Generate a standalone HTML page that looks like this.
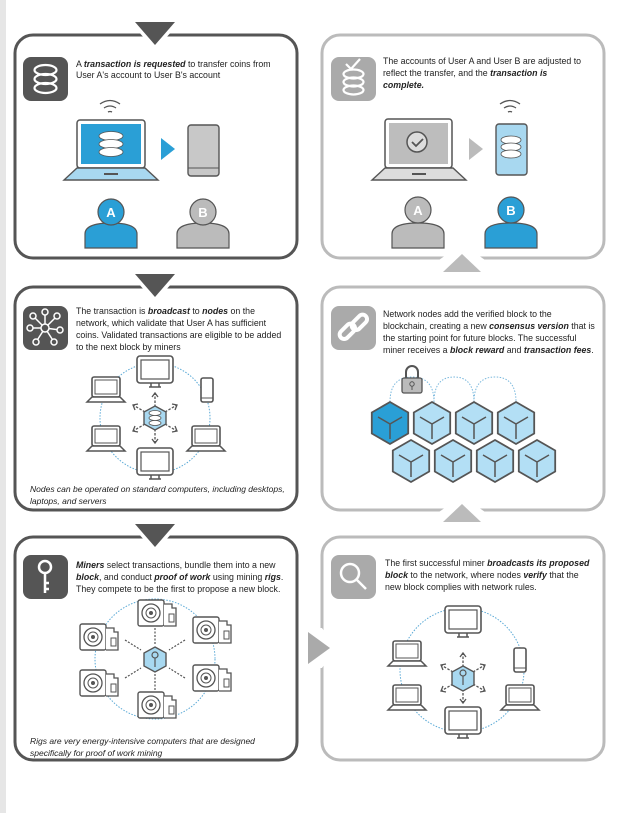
<!DOCTYPE html>
<html><head><meta charset="utf-8"><style>
html,body{margin:0;padding:0;background:#fff;width:621px;height:813px;overflow:hidden}
svg text{font-family:"Liberation Sans",sans-serif;font-size:8.8px;fill:#222}
.b{font-weight:bold;font-style:italic}
.i{font-style:italic;font-size:8.5px}
</style></head><body>
<svg width="621" height="813" viewBox="0 0 621 813" xmlns="http://www.w3.org/2000/svg">
<defs>
<g id="mon"><rect x="-18" y="-14" width="36" height="27" rx="3" fill="#fff" stroke="#555" stroke-width="1.6"/><rect x="-14" y="-10" width="28" height="19" fill="none" stroke="#555" stroke-width="1.2"/><path d="M-4 13v4h8v-4M-6 17h12" stroke="#555" stroke-width="1.5" fill="none"/></g>
<g id="lap"><rect x="-14" y="-12" width="28" height="20" rx="2" fill="#fff" stroke="#555" stroke-width="1.6"/><rect x="-11" y="-9" width="22" height="14" fill="none" stroke="#555" stroke-width="1"/><path d="M-14 8l-5 5h38l-5-5z" fill="#fff" stroke="#555" stroke-width="1.5"/></g>
<g id="ph"><rect x="-6" y="-12" width="12" height="24" rx="2" fill="#fff" stroke="#555" stroke-width="1.6"/><line x1="-6" y1="8" x2="6" y2="8" stroke="#555"/></g>
<g id="rig"><rect x="-20" y="-13" width="26" height="26" rx="2" fill="#fff" stroke="#555" stroke-width="1.4"/><circle cx="-7" cy="0" r="9" fill="none" stroke="#555" stroke-width="1.3"/><circle cx="-7" cy="0" r="5" fill="none" stroke="#555"/><circle cx="-7" cy="0" r="2" fill="#555"/><path d="M6 -9h8v4h4v18H6" fill="#fff" stroke="#555" stroke-width="1.3"/><rect x="11" y="1" width="5" height="8" fill="none" stroke="#555"/></g>
<g id="cube"><polygon points="0,-21 18.2,-10.5 18.2,10.5 0,21 -18.2,10.5 -18.2,-10.5" fill="#b3dff5" stroke="#555" stroke-width="1.8"/><path d="M0 1L-12 -6M0 1L12 -6M0 1V16" stroke="#555" stroke-width="1.5" fill="none"/></g>
<g id="arr" stroke="#555" stroke-width="1.3" fill="none"><path d="M0 -11V-25M0 11V25M10 -6L22 -13M-10 -6L-22 -13M10 6L22 13M-10 6L-22 13" stroke-dasharray="2.5 1.5"/><path d="M-3 -21L0 -25L3 -21M-3 21L0 25L3 21M17 -14L22 -13L20 -8M-17 -14L-22 -13L-20 -8M17 14L22 13L20 8M-17 14L-22 13L-20 8"/></g>
</defs>

<rect x="0" y="0" width="6" height="813" fill="#e6e6e6"/>

<!-- Panel 1 -->
<rect x="15" y="35" width="282" height="223" rx="18" fill="#fff" stroke="#555" stroke-width="3"/>
<polygon points="128,20 182,20 155,50" fill="#fff"/>
<polygon points="135,22 175,22 155,45" fill="#555"/>
<rect x="23" y="57" width="45" height="44" rx="8" fill="#555"/>
<g fill="none" stroke="#fff" stroke-width="2.2"><ellipse cx="45.5" cy="70" rx="11" ry="5"/><ellipse cx="45.5" cy="79" rx="11" ry="5"/><ellipse cx="45.5" cy="88" rx="11" ry="5"/></g>
<text x="76" y="67">A <tspan class="b">transaction is requested</tspan>  to transfer coins from</text>
<text x="76" y="78">User A's account to User B's account</text>
<g fill="none" stroke="#555" stroke-width="1.3"><path d="M100 104q10-7 20 0M104 108q6-4 12 0M108 112q2-1 4 0"/></g>
<rect x="77" y="120" width="68" height="48" rx="3" fill="#fff" stroke="#555" stroke-width="1.5"/>
<rect x="81" y="124" width="60" height="40" fill="#2a9fd6"/>
<g fill="#fff" stroke="#555" stroke-width="0.8"><ellipse cx="111" cy="136" rx="12" ry="4.5"/><ellipse cx="111" cy="144" rx="12" ry="4.5"/><ellipse cx="111" cy="152" rx="12" ry="4.5"/></g>
<path d="M77 168l-13 12h94l-13-12z" fill="#a8d8f0" stroke="#555" stroke-width="1.4"/>
<rect x="104" y="173" width="14" height="2" fill="#555"/>
<polygon points="161,138 175,149 161,160" fill="#2a9fd6"/>
<rect x="188" y="125" width="31" height="51" rx="3" fill="#c8c8c8" stroke="#555" stroke-width="1.4"/>
<line x1="188" y1="168" x2="219" y2="168" stroke="#555"/>
<path d="M85 248v-14q0-11 26-11t26 11v14z" fill="#2a9fd6" stroke="#555" stroke-width="1.2"/>
<circle cx="111" cy="212" r="13" fill="#2a9fd6" stroke="#555" stroke-width="1.2"/>
<text x="111" y="217" text-anchor="middle" style="font-size:13px;font-weight:bold;fill:#fff">A</text>
<path d="M177 248v-14q0-11 26-11t26 11v14z" fill="#bbb" stroke="#555" stroke-width="1.2"/>
<circle cx="203" cy="212" r="13" fill="#bbb" stroke="#555" stroke-width="1.2"/>
<text x="203" y="217" text-anchor="middle" style="font-size:13px;font-weight:bold;fill:#fff">B</text>

<!-- Panel 2 -->
<rect x="322" y="35" width="282" height="223" rx="18" fill="#fff" stroke="#bbb" stroke-width="3"/>
<rect x="331" y="57" width="45" height="44" rx="8" fill="#aaa"/>
<g fill="none" stroke="#fff" stroke-width="2.2"><ellipse cx="353.5" cy="74" rx="10" ry="4.5"/><ellipse cx="353.5" cy="82" rx="10" ry="4.5"/><ellipse cx="353.5" cy="90" rx="10" ry="4.5"/><path d="M346 64l5 5 9-10"/></g>
<text x="383" y="64">The accounts of User A and User B are adjusted to</text>
<text x="383" y="76">reflect the transfer, and the <tspan class="b">transaction is</tspan></text>
<text x="383" y="88" class="b">complete.</text>
<g fill="none" stroke="#555" stroke-width="1.3"><path d="M500 104q10-7 20 0M504 108q6-4 12 0M508 112q2-1 4 0"/></g>
<rect x="385" y="119" width="67" height="49" rx="3" fill="#fff" stroke="#555" stroke-width="1.5"/>
<rect x="389" y="123" width="59" height="41" fill="#bdbdbd"/>
<circle cx="417" cy="142" r="10" fill="#ddd" stroke="#555" stroke-width="1.5"/>
<path d="M412 142l4 4 7-7" fill="none" stroke="#555" stroke-width="1.8"/>
<path d="M385 168l-13 12h94l-13-12z" fill="#ddd" stroke="#555" stroke-width="1.4"/>
<rect x="412" y="173" width="14" height="2" fill="#555"/>
<polygon points="469,138 483,149 469,160" fill="#bbb"/>
<rect x="496" y="124" width="31" height="51" rx="3" fill="#a8d8f0" stroke="#555" stroke-width="1.4"/>
<g fill="#fff" stroke="#555" stroke-width="0.8"><ellipse cx="511" cy="140" rx="10" ry="4"/><ellipse cx="511" cy="147" rx="10" ry="4"/><ellipse cx="511" cy="154" rx="10" ry="4"/></g>
<path d="M392 248v-14q0-11 26-11t26 11v14z" fill="#bbb" stroke="#555" stroke-width="1.2"/>
<circle cx="418" cy="210" r="13" fill="#bbb" stroke="#555" stroke-width="1.2"/>
<text x="418" y="215" text-anchor="middle" style="font-size:13px;font-weight:bold;fill:#fff">A</text>
<path d="M485 248v-14q0-11 26-11t26 11v14z" fill="#2a9fd6" stroke="#555" stroke-width="1.2"/>
<circle cx="511" cy="210" r="13" fill="#2a9fd6" stroke="#555" stroke-width="1.2"/>
<text x="511" y="215" text-anchor="middle" style="font-size:13px;font-weight:bold;fill:#fff">B</text>
<polygon points="436,262 462,244 488,262" fill="#fff"/>
<polygon points="443,272 462,254 481,272" fill="#bbb"/>

<!-- Panel 3 -->
<rect x="15" y="287" width="282" height="223" rx="18" fill="#fff" stroke="#555" stroke-width="3"/>
<polygon points="128,272 182,272 155,302" fill="#fff"/>
<polygon points="135,274 175,274 155,297" fill="#555"/>
<rect x="23" y="306" width="45" height="44" rx="8" fill="#555"/>
<g stroke="#fff" stroke-width="1.5" fill="#555"><path d="M45 328L33 316M45 328L57 316M45 328L30 328M45 328L60 330M45 328L36 342M45 328L54 342M45 328L45 312" /><circle cx="45" cy="328" r="4"/><circle cx="33" cy="316" r="3"/><circle cx="57" cy="316" r="3"/><circle cx="30" cy="328" r="3"/><circle cx="60" cy="330" r="3"/><circle cx="36" cy="342" r="3"/><circle cx="54" cy="342" r="3"/><circle cx="45" cy="312" r="3"/></g>
<text x="76" y="314">The transaction is <tspan class="b">broadcast</tspan> to <tspan class="b">nodes</tspan> on the</text>
<text x="76" y="326">network, which validate that User A has sufficient</text>
<text x="76" y="338">coins.  Validated transactions are eligible to be added</text>
<text x="76" y="350">to the next block by miners</text>
<circle cx="155" cy="418" r="55" fill="none" stroke="#5aa9d6" stroke-width="1" stroke-dasharray="1.5 1.5"/>
<use href="#mon" x="155" y="370"/><use href="#lap" x="106" y="389"/><use href="#ph" x="207" y="390"/>
<use href="#lap" x="106" y="438"/><use href="#lap" x="206" y="438"/><use href="#mon" x="155" y="462"/>
<use href="#arr" x="155" y="418"/>
<polygon points="155,406 166,412 166,424 155,430 144,424 144,412" fill="#a8d8f0" stroke="#555" stroke-width="1.4"/>
<g fill="#fff" stroke="#555" stroke-width="0.8"><ellipse cx="155" cy="413" rx="6" ry="2.5"/><ellipse cx="155" cy="418" rx="6" ry="2.5"/><ellipse cx="155" cy="423" rx="6" ry="2.5"/></g>
<text x="30" y="492" class="i">Nodes can be operated on standard computers, including desktops,</text>
<text x="30" y="504" class="i">laptops, and servers</text>

<!-- Panel 4 -->
<rect x="322" y="287" width="282" height="223" rx="18" fill="#fff" stroke="#bbb" stroke-width="3"/>
<rect x="331" y="306" width="45" height="44" rx="8" fill="#aaa"/>
<g fill="none" stroke="#fff" stroke-width="4"><rect x="338" y="327" width="18" height="9" rx="4.5" transform="rotate(-45 347 331)"/><rect x="350" y="318" width="18" height="9" rx="4.5" transform="rotate(-45 359 322)"/></g>
<text x="383" y="317">Network nodes add the verified block to the</text>
<text x="383" y="329">blockchain, creating a new <tspan class="b">consensus version</tspan> that is</text>
<text x="383" y="341">the starting point for future blocks. The successful</text>
<text x="383" y="353">miner receives a <tspan class="b">block reward</tspan> and <tspan class="b">transaction fees</tspan>.</text>
<g fill="none" stroke="#7ab8dd" stroke-width="1" stroke-dasharray="1.5 1.5"><path d="M390 402q0-25 22-25q22 0 22 25M434 402q0-25 20-25q20 0 20 25M474 402q0-25 21-25q21 0 21 25"/></g>
<path d="M406 378v-6a6 6 0 0 1 12 0v6" fill="none" stroke="#555" stroke-width="2"/>
<rect x="402" y="378" width="20" height="15" rx="2" fill="#bbb" stroke="#555" stroke-width="1.3"/>
<circle cx="412" cy="384" r="2.2" fill="none" stroke="#555"/><line x1="412" y1="386" x2="412" y2="390" stroke="#555"/>
<polygon points="390,402 408.2,412.5 408.2,433.5 390,444 371.8,433.5 371.8,412.5" fill="#2a9fd6" stroke="#555" stroke-width="1.8"/>
<path d="M390 424L378 417M390 424L402 417M390 424V439" stroke="#555" stroke-width="1.5"/>
<use href="#cube" x="432" y="423"/><use href="#cube" x="474" y="423"/><use href="#cube" x="516" y="423"/>
<use href="#cube" x="411" y="461"/><use href="#cube" x="453" y="461"/><use href="#cube" x="495" y="461"/><use href="#cube" x="537" y="461"/>
<polygon points="436,514 462,496 488,514" fill="#fff"/>
<polygon points="443,522 462,504 481,522" fill="#bbb"/>

<!-- Panel 5 -->
<rect x="15" y="537" width="282" height="223" rx="18" fill="#fff" stroke="#555" stroke-width="3"/>
<polygon points="128,522 182,522 155,552" fill="#fff"/>
<polygon points="135,524 175,524 155,547" fill="#555"/>
<rect x="23" y="555" width="45" height="44" rx="8" fill="#555"/>
<g fill="none" stroke="#fff" stroke-width="2.5"><circle cx="45" cy="567" r="6"/><path d="M45 573v20M45 583h4M45 589h4"/></g>
<text x="76" y="568"><tspan class="b">Miners</tspan> select transactions, bundle them into a new</text>
<text x="76" y="580"><tspan class="b">block</tspan>, and conduct <tspan class="b">proof of work</tspan> using mining <tspan class="b">rigs</tspan>.</text>
<text x="76" y="592">They compete to be the first to propose a new block.</text>
<circle cx="155" cy="659" r="60" fill="none" stroke="#5aa9d6" stroke-width="1" stroke-dasharray="1.5 1.5"/>
<use href="#rig" x="158" y="613"/><use href="#rig" x="100" y="637"/><use href="#rig" x="213" y="630"/>
<use href="#rig" x="100" y="683"/><use href="#rig" x="213" y="678"/><use href="#rig" x="158" y="705"/>
<g stroke="#555" stroke-width="1.2" fill="none" stroke-dasharray="2 1.5"><path d="M155 628v17M155 690v-17M125 640l16 10M125 678l16-10M185 640l-16 10M185 678l-16-10"/></g>
<polygon points="155,647 166,653 166,666 155,672 144,666 144,653" fill="#a8d8f0" stroke="#555" stroke-width="1.4"/>
<circle cx="155" cy="655" r="3" fill="none" stroke="#555" stroke-width="1.2"/><path d="M155 658v9" stroke="#555" stroke-width="1.2"/>
<text x="30" y="744" class="i">Rigs are very energy-intensive computers that are designed</text>
<text x="30" y="756" class="i">specifically for proof of work mining</text>

<!-- Panel 6 -->
<rect x="322" y="537" width="282" height="223" rx="18" fill="#fff" stroke="#bbb" stroke-width="3"/>
<polygon points="302,628 322,628 336,648 322,668 302,668 316,648" fill="#fff"/>
<polygon points="308,632 330,648 308,664" fill="#aaa"/>
<rect x="331" y="555" width="45" height="44" rx="8" fill="#aaa"/>
<g fill="none" stroke="#fff" stroke-width="2.5"><circle cx="350" cy="573" r="9"/><path d="M357 580l9 9"/></g>
<text x="385" y="566">The first successful miner <tspan class="b">broadcasts its proposed</tspan></text>
<text x="385" y="578"><tspan class="b">block</tspan> to the network, where nodes <tspan class="b">verify</tspan> that the</text>
<text x="385" y="590">new block complies with network rules.</text>
<circle cx="462" cy="670" r="62" fill="none" stroke="#5aa9d6" stroke-width="1" stroke-dasharray="1.5 1.5"/>
<use href="#mon" x="463" y="620"/><use href="#lap" x="407" y="653"/><use href="#ph" x="520" y="660"/>
<use href="#lap" x="407" y="697"/><use href="#lap" x="520" y="697"/><use href="#mon" x="463" y="721"/>
<use href="#arr" x="463" y="678"/>
<polygon points="463,666 474,672 474,685 463,691 452,685 452,672" fill="#a8d8f0" stroke="#555" stroke-width="1.4"/>
<circle cx="463" cy="673" r="3" fill="none" stroke="#555" stroke-width="1.2"/><path d="M463 676v9" stroke="#555" stroke-width="1.2"/>
</svg>
</body></html>
